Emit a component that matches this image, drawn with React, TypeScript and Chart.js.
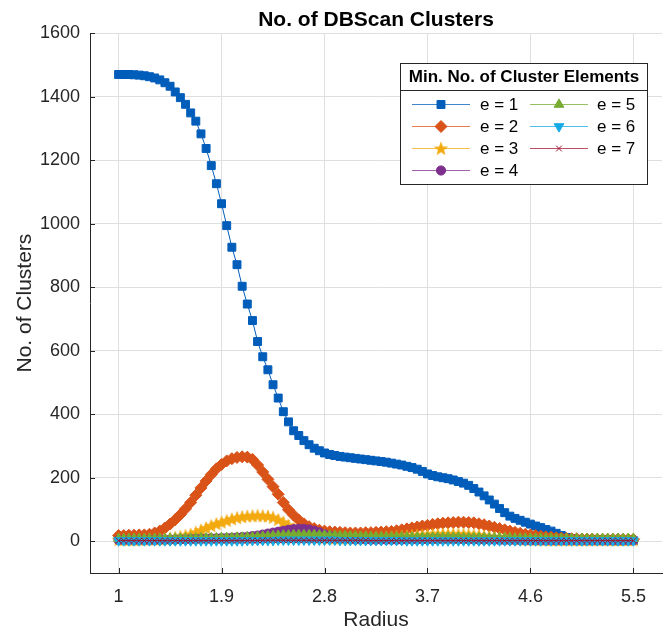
import React, { useEffect, useRef } from 'react';
import { Chart, registerables } from 'chart.js';
import { drawPoint } from 'chart.js/helpers';

Chart.register(...registerables);

const FONT = '"Liberation Sans", Arial, Helvetica, sans-serif';

// Radius grid (x values)
const radius = [
  1.000, 1.045, 1.090, 1.135, 1.180, 1.225, 1.270, 1.315, 1.360, 1.405,
  1.450, 1.495, 1.540, 1.585, 1.630, 1.675, 1.720, 1.765, 1.810, 1.855,
  1.900, 1.945, 1.990, 2.035, 2.080, 2.125, 2.170, 2.215, 2.260, 2.305,
  2.350, 2.395, 2.440, 2.485, 2.530, 2.575, 2.620, 2.665, 2.710, 2.755,
  2.800, 2.845, 2.890, 2.935, 2.980, 3.025, 3.070, 3.115, 3.160, 3.205,
  3.250, 3.295, 3.340, 3.385, 3.430, 3.475, 3.520, 3.565, 3.610, 3.655,
  3.700, 3.745, 3.790, 3.835, 3.880, 3.925, 3.970, 4.015, 4.060, 4.105,
  4.150, 4.195, 4.240, 4.285, 4.330, 4.375, 4.420, 4.465, 4.510, 4.555,
  4.600, 4.645, 4.690, 4.735, 4.780, 4.825, 4.870, 4.915, 4.960, 5.005,
  5.050, 5.095, 5.140, 5.185, 5.230, 5.275, 5.320, 5.365, 5.410, 5.455,
  5.500,
];

const clustersE1 = [
  1470, 1470, 1470, 1469, 1468, 1466, 1463, 1459, 1453, 1444,
  1433, 1415, 1397, 1376, 1349, 1323, 1283, 1237, 1183, 1126,
  1063, 994, 926, 871, 803, 747, 695, 629, 581, 540,
  493, 451, 408, 376, 348, 333, 317, 304, 293, 285,
  278, 273, 270, 267, 265, 263, 261, 259, 257, 255,
  253, 251, 249, 246, 243, 240, 236, 232, 227, 220,
  212, 207, 203, 200, 197, 193, 188, 183, 176, 166,
  155, 143, 130, 117, 103, 90, 79, 72, 66, 60,
  54, 48, 43, 37, 32, 25, 18, 12, 8, 6,
  5, 4, 4, 3, 3, 3, 2, 2, 2, 2,
  2,
];

const clustersE2 = [
  18, 18, 19, 19, 20, 20, 22, 26, 32, 42,
  54, 68, 84, 102, 122, 145, 168, 190, 210, 228,
  242, 253, 260, 264, 266, 265, 258, 240, 218, 195,
  172, 148, 122, 99, 82, 67, 55, 46, 40, 35,
  32, 30, 29, 28, 27, 26, 26, 26, 27, 27,
  28, 29, 30, 31, 33, 36, 39, 42, 45, 48,
  50, 53, 55, 57, 58, 59, 60, 60, 59, 58,
  55, 52, 48, 44, 40, 36, 32, 28, 25, 22,
  20, 18, 16, 14, 13, 11, 10, 9, 8, 8,
  7, 7, 7, 6, 6, 6, 6, 6, 6, 6,
  6,
];

const clustersE3 = [
  5, 5, 5, 5, 5, 6, 6, 6, 7, 8,
  10, 12, 15, 18, 22, 28, 35, 42, 49, 55,
  60, 65, 70, 74, 77, 79, 80, 81, 80, 79,
  75, 68, 60, 50, 40, 32, 25, 20, 16, 13,
  12, 11, 10, 10, 10, 10, 10, 10, 11, 11,
  12, 12, 13, 14, 15, 16, 17, 18, 19, 20,
  21, 22, 22, 23, 23, 23, 22, 22, 21, 20,
  19, 17, 15, 13, 12, 10, 9, 8, 7, 6,
  6, 5, 5, 5, 4, 4, 4, 4, 4, 4,
  4, 4, 4, 4, 4, 4, 4, 4, 4, 4,
  4,
];

const clustersE4 = [
  4, 4, 4, 4, 4, 4, 4, 4, 5, 5,
  5, 5, 6, 6, 7, 7, 8, 8, 9, 9,
  10, 10, 11, 12, 13, 14, 16, 18, 21, 24,
  27, 30, 33, 36, 38, 39, 39, 37, 33, 28,
  22, 17, 13, 10, 8, 7, 6, 6, 6, 5,
  5, 5, 5, 5, 5, 5, 6, 6, 6, 6,
  6, 7, 7, 7, 7, 7, 7, 6, 6, 6,
  5, 5, 5, 5, 4, 4, 4, 4, 4, 3,
  3, 3, 3, 3, 3, 3, 3, 3, 3, 3,
  3, 3, 3, 3, 3, 3, 3, 3, 3, 3,
  3,
];

const clustersE5 = [
  8, 8, 8, 8, 8, 8, 8, 8, 8, 8,
  8, 9, 9, 9, 9, 9, 10, 10, 10, 10,
  11, 11, 11, 12, 12, 13, 13, 14, 15, 16,
  17, 18, 19, 19, 20, 20, 20, 20, 20, 19,
  19, 18, 18, 17, 17, 16, 16, 15, 15, 14,
  14, 14, 13, 13, 13, 13, 12, 12, 12, 12,
  12, 12, 12, 12, 12, 12, 12, 11, 11, 11,
  11, 11, 10, 10, 10, 10, 10, 9, 9, 9,
  9, 9, 9, 9, 9, 8, 8, 8, 8, 8,
  8, 8, 8, 8, 8, 8, 8, 8, 8, 8,
  8,
];

const clustersE6 = [
  2, 2, 2, 2, 2, 2, 2, 2, 2, 2,
  2, 2, 2, 2, 2, 2, 2, 2, 2, 2,
  2, 2, 2, 2, 2, 3, 3, 3, 3, 3,
  3, 4, 4, 4, 4, 4, 4, 4, 4, 4,
  4, 4, 4, 3, 3, 3, 3, 3, 3, 3,
  3, 3, 3, 3, 3, 3, 2, 2, 2, 2,
  2, 2, 2, 2, 2, 2, 2, 2, 2, 2,
  2, 2, 2, 2, 2, 2, 2, 2, 2, 2,
  2, 2, 2, 2, 2, 2, 2, 2, 2, 2,
  2, 2, 2, 2, 2, 2, 2, 2, 2, 2,
  2,
];

const clustersE7 = [
  2, 2, 2, 2, 2, 2, 2, 2, 2, 2,
  2, 2, 2, 2, 2, 2, 2, 2, 2, 2,
  2, 2, 2, 2, 2, 2, 2, 2, 3, 3,
  3, 3, 3, 3, 3, 3, 3, 3, 3, 3,
  3, 3, 3, 3, 3, 3, 3, 3, 3, 2,
  2, 2, 2, 2, 2, 2, 2, 2, 2, 2,
  2, 2, 2, 2, 2, 2, 2, 2, 2, 2,
  2, 2, 2, 2, 2, 2, 2, 2, 2, 2,
  2, 2, 2, 2, 2, 2, 2, 2, 2, 2,
  2, 2, 2, 2, 2, 2, 2, 2, 2, 2,
  2,
];

const seriesLabels = ['e = 1', 'e = 2', 'e = 3', 'e = 4', 'e = 5', 'e = 6', 'e = 7'];
const seriesValues = [clustersE1, clustersE2, clustersE3, clustersE4, clustersE5, clustersE6, clustersE7];
const seriesColors = ['#005DBA', '#D95319', '#F3AA10', '#7E2F8E', '#77AC30', '#16AAE6', '#A2142F'];

const xTicks = [1, 1.9, 2.8, 3.7, 4.6, 5.5];
const yTicks = [0, 200, 400, 600, 800, 1000, 1200, 1400, 1600];

const titleText = 'No. of DBScan Clusters';
const xTitle = 'Radius';
const yTitle = 'No. of Clusters';
const legendTitle = 'Min. No. of Cluster Elements';

function makeStar(color: string, outer: number, inner: number): HTMLCanvasElement {
  const size = Math.ceil(outer * 2 + 2);
  const c = document.createElement('canvas');
  c.width = size;
  c.height = size;
  const g = c.getContext('2d')!;
  const cx = size / 2;
  const cy = size / 2 + 0.6;
  g.beginPath();
  for (let k = 0; k < 10; k++) {
    const r = k % 2 === 0 ? outer : inner;
    const a = -Math.PI / 2 + (k * Math.PI) / 5;
    const px = cx + r * Math.cos(a);
    const py = cy + r * Math.sin(a);
    if (k === 0) g.moveTo(px, py);
    else g.lineTo(px, py);
  }
  g.closePath();
  g.fillStyle = color;
  g.fill();
  g.strokeStyle = color;
  g.lineWidth = 0.6;
  g.stroke();
  return c;
}

const legendPlugin = {
  id: 'matlabLegend',
  afterDraw(chart: any) {
    const ctx: CanvasRenderingContext2D = chart.ctx;
    const L = 400.5, T = 63.5, R = 647.5, B = 184.5;
    ctx.save();
    ctx.fillStyle = '#ffffff';
    ctx.fillRect(L, T, R - L, B - T);
    ctx.strokeStyle = '#262626';
    ctx.lineWidth = 1;
    ctx.strokeRect(L, T, R - L, B - T);
    ctx.beginPath();
    ctx.moveTo(L, 90.5);
    ctx.lineTo(R, 90.5);
    ctx.stroke();
    ctx.fillStyle = '#000000';
    ctx.font = `bold 17px ${FONT}`;
    ctx.textAlign = 'center';
    ctx.textBaseline = 'middle';
    ctx.fillText(legendTitle, (L + R) / 2, 77.5);

    const rowsY = [104.5, 126.5, 148.5, 170.5];
    chart.data.datasets.forEach((ds: any, i: number) => {
      const col = i < 4 ? 0 : 1;
      const row = i < 4 ? i : i - 4;
      const y = rowsY[row];
      const lx0 = col ? 530 : 412;
      const lx1 = col ? 588 : 470;
      const mx = (lx0 + lx1) / 2;
      const tx = col ? 597 : 480;
      ctx.strokeStyle = ds.borderColor;
      ctx.globalAlpha = 0.75;
      ctx.lineWidth = 1;
      ctx.beginPath();
      ctx.moveTo(lx0, y);
      ctx.lineTo(lx1, y);
      ctx.stroke();
      ctx.globalAlpha = 1;
      ctx.fillStyle = ds.pointBackgroundColor;
      ctx.strokeStyle = ds.pointBorderColor;
      ctx.lineWidth = ds.pointBorderWidth;
      drawPoint(ctx, {
        pointStyle: ds.pointStyle,
        rotation: ds.pointRotation || 0,
        radius: ds.pointRadius,
        borderWidth: ds.pointBorderWidth,
      } as any, mx, y);
      ctx.fillStyle = '#000000';
      ctx.font = `17px ${FONT}`;
      ctx.textAlign = 'left';
      ctx.textBaseline = 'middle';
      ctx.fillText(ds.label, tx, y + 1);
    });
    ctx.restore();
  },
};

const inwardTicks = {
  id: 'inwardTicks',
  afterDatasetsDraw(chart: any) {
    const { ctx, chartArea: ca, scales } = chart;
    ctx.save();
    ctx.strokeStyle = '#262626';
    ctx.lineWidth = 1;
    yTicks.forEach((v) => {
      const y = Math.round(scales.y.getPixelForValue(v)) + 0.5;
      ctx.beginPath();
      ctx.moveTo(ca.left, y);
      ctx.lineTo(ca.left + 5, y);
      ctx.stroke();
    });
    xTicks.forEach((v) => {
      const x = Math.round(scales.x.getPixelForValue(v)) + 0.5;
      ctx.beginPath();
      ctx.moveTo(x, ca.bottom);
      ctx.lineTo(x, ca.bottom - 5);
      ctx.stroke();
    });
    ctx.restore();
  },
};

export default function App() {
  const ref = useRef<HTMLCanvasElement | null>(null);

  useEffect(() => {
    if (!ref.current) return;
    const star = makeStar(seriesColors[2], 6.8, 2.8);
    const styles: any[] = ['rect', 'rectRot', star, 'circle', 'triangle', 'triangle', 'crossRot'];
    const rotations = [0, 0, 0, 0, 0, 180, 0];
    const radii = [5.6, 6, 6, 4.6, 5.6, 5.6, 4];

    const datasets = seriesValues.map((vals, i) => ({
      label: seriesLabels[i],
      data: vals.map((v, k) => ({ x: radius[k], y: v })),
      borderColor: seriesColors[i],
      backgroundColor: seriesColors[i],
      pointBackgroundColor: seriesColors[i],
      pointBorderColor: seriesColors[i],
      pointBorderWidth: 1,
      borderWidth: 1,
      pointStyle: styles[i],
      pointRotation: rotations[i],
      pointRadius: radii[i],
      tension: 0,
      fill: false,
      order: 6 - i,
    }));

    const chart = new Chart(ref.current, {
      type: 'line',
      data: { datasets } as any,
      plugins: [inwardTicks, legendPlugin],
      options: {
        responsive: false,
        animation: false,
        layout: { padding: { top: 0, right: 9, bottom: 0, left: 0 } },
        plugins: {
          legend: { display: false },
          tooltip: { enabled: false },
          title: {
            display: true,
            text: titleText,
            fullSize: false,
            color: '#000000',
            font: { family: FONT, size: 21, weight: 'bold' },
            padding: { top: 8, bottom: 0 },
          },
        },
        scales: {
          x: {
            type: 'linear',
            min: 0.75,
            max: 5.75,
            afterBuildTicks: (s: any) => {
              s.ticks = xTicks.map((v) => ({ value: v }));
            },
            afterFit: (s: any) => {
              s.height = 60;
            },
            ticks: {
              color: '#262626',
              font: { family: FONT, size: 18 },
              padding: 13,
              maxRotation: 0,
              autoSkip: false,
              callback: (v: any) => String(v),
            },
            grid: { color: '#dfdfdf', drawTicks: false, lineWidth: 1 },
            border: { display: true, color: '#262626', width: 1 },
            title: {
              display: true,
              text: xTitle,
              color: '#262626',
              font: { family: FONT, size: 21 },
              padding: { top: 0, bottom: 0 },
            },
          },
          y: {
            type: 'linear',
            min: -100,
            max: 1600,
            afterBuildTicks: (s: any) => {
              s.ticks = yTicks.map((v) => ({ value: v }));
            },
            afterFit: (s: any) => {
              s.width = 90;
            },
            ticks: {
              color: '#262626',
              font: { family: FONT, size: 18 },
              padding: 10,
              autoSkip: false,
              callback: (v: any) => String(v),
            },
            grid: { color: '#dfdfdf', drawTicks: false, lineWidth: 1 },
            border: { display: true, color: '#262626', width: 1 },
            title: {
              display: true,
              text: yTitle,
              color: '#262626',
              font: { family: FONT, size: 21 },
              padding: { top: 13, bottom: 0 },
            },
          },
        },
      } as any,
    });
    return () => chart.destroy();
  }, []);

  return (
    <div style={{ position: 'absolute', left: 0, top: 0, width: 671, height: 633 }}>
      <canvas ref={ref} width={671} height={633} style={{ display: 'block', width: 671, height: 633 }} />
    </div>
  );
}
